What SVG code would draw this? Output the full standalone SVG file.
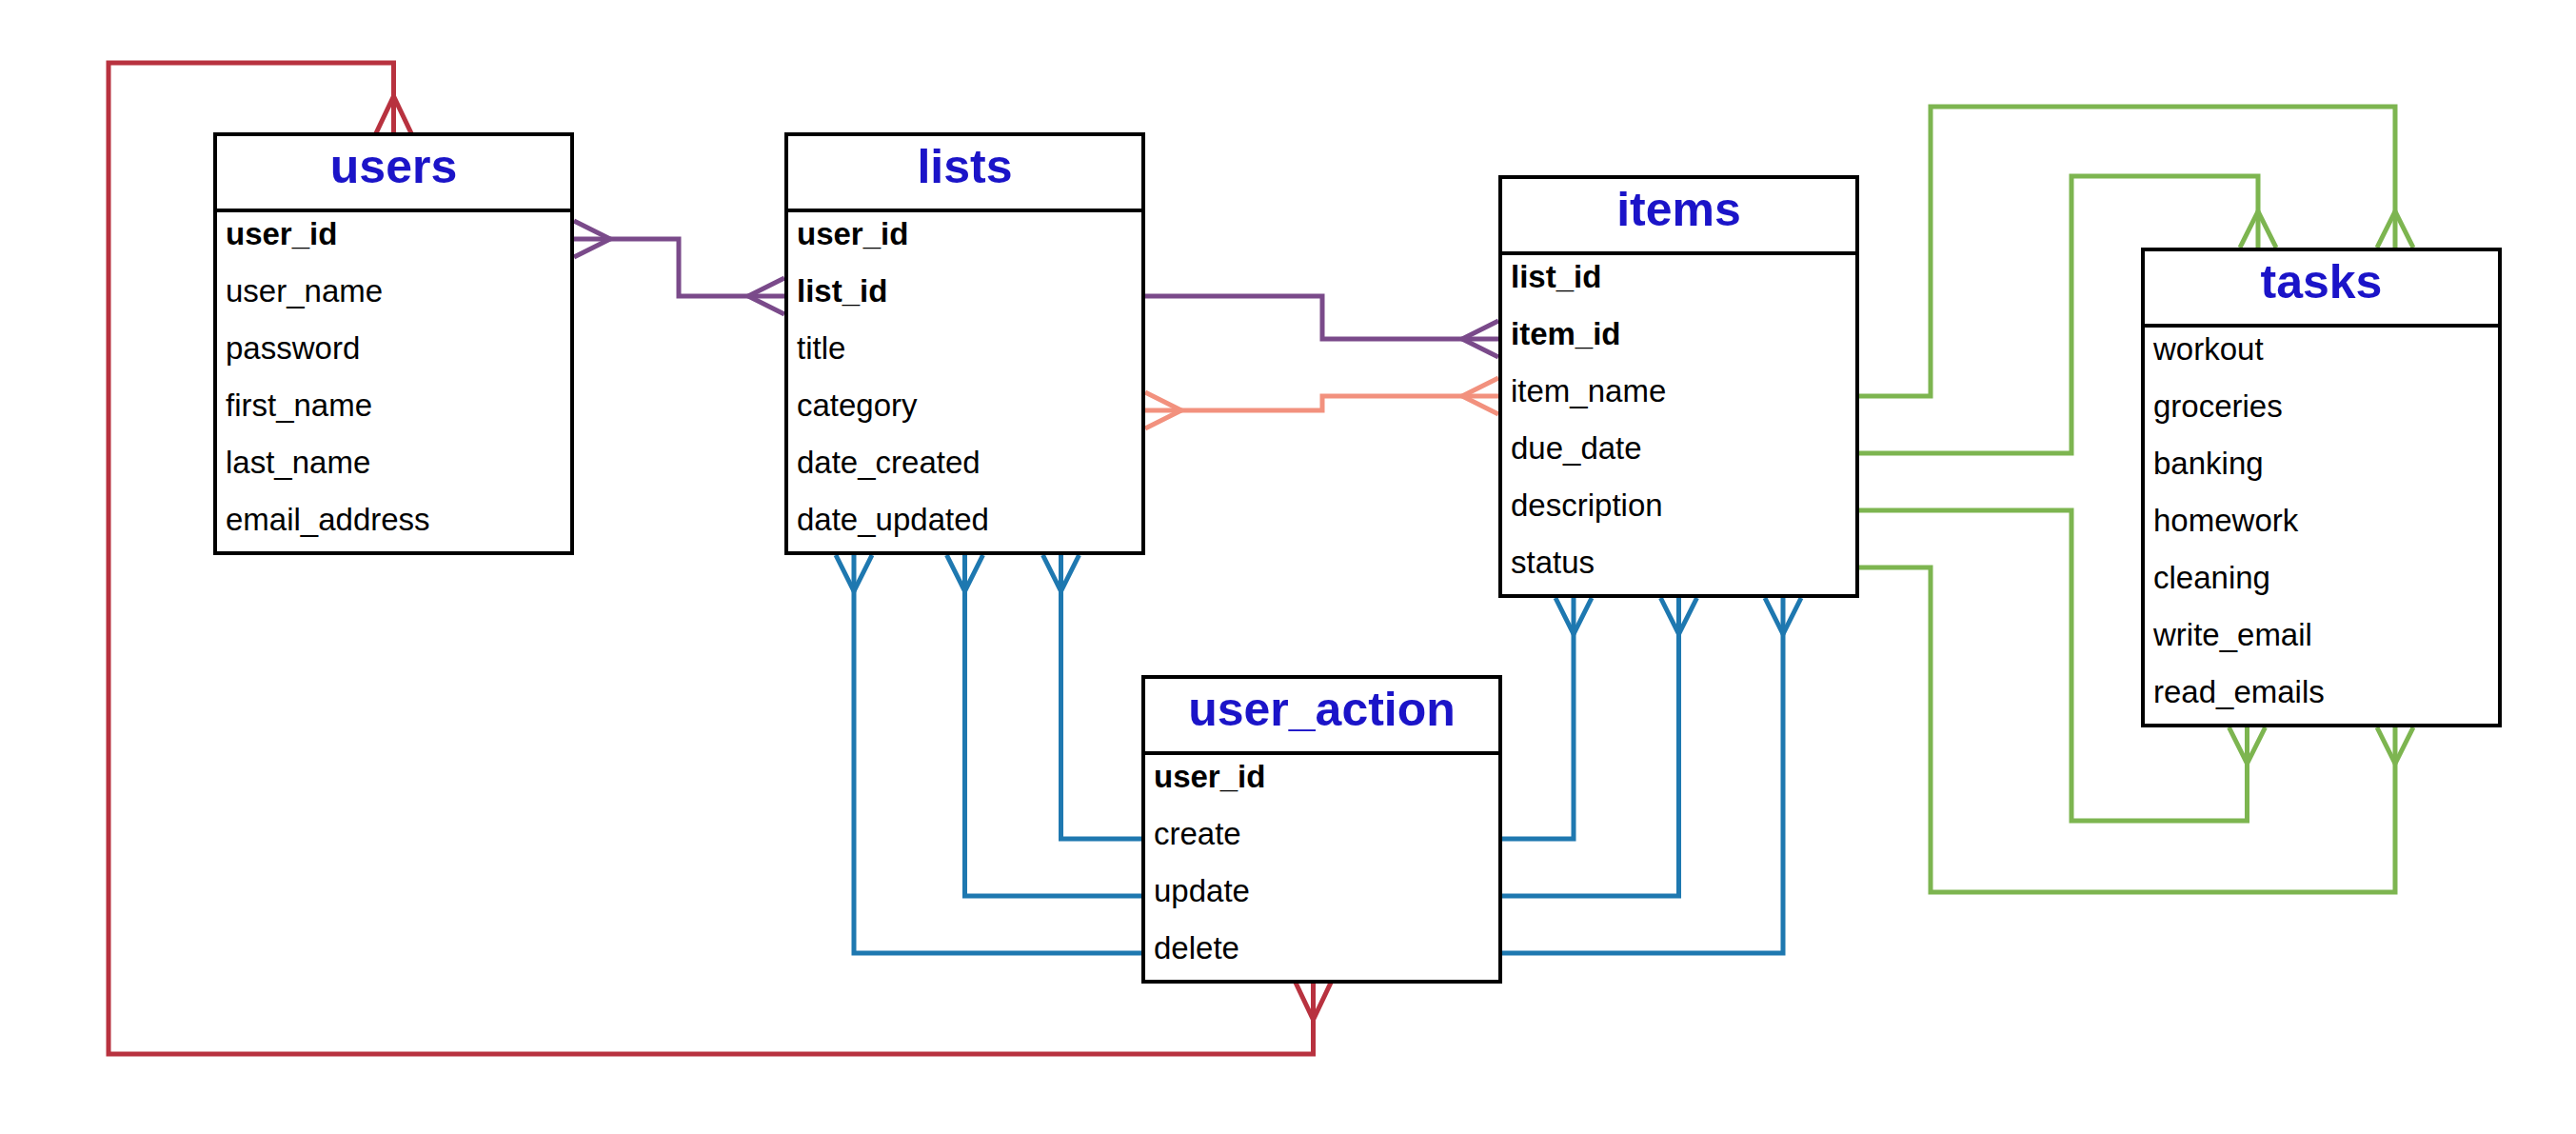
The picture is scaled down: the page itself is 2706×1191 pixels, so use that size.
<svg xmlns="http://www.w3.org/2000/svg" width="2706" height="1191" viewBox="0 0 2706 1191">
<style>
.box{fill:#fff;stroke:#000;stroke-width:4}
.div{stroke:#000;stroke-width:4}
.title{font-family:"Liberation Sans",Arial,sans-serif;font-size:50px;font-weight:bold;fill:#1B14C8;text-anchor:middle}
.row{font-family:"Liberation Sans",Arial,sans-serif;font-size:33px;fill:#000}
.pk{font-weight:bold}
.c{fill:none;stroke-width:5;stroke-linejoin:miter}
.red{stroke:#B8323F}
.pur{stroke:#7A4A8A}
.sal{stroke:#F2917E}
.blu{stroke:#1E78B0}
.grn{stroke:#7DB550}
</style>
<rect width="2706" height="1191" fill="#fff"/>
<g id="connectors">
  <g id="users-user_action">
    <path class="c red" d="M413.5 141V66H114V1107H1379.5V1031"/>
    <path class="c red" d="M394.5 141L413.5 101L432.5 141"/>
    <path class="c red" d="M1360.5 1031L1379.5 1071L1398.5 1031"/>
  </g>
  <g id="users-lists">
    <path class="c pur" d="M601 251H713V311H826"/>
    <path class="c pur" d="M603 232L641 251L603 270"/>
    <path class="c pur" d="M824 292L786 311L824 330"/>
  </g>
  <g id="lists-items">
    <path class="c pur" d="M1201 311H1389V356H1576"/>
    <path class="c pur" d="M1574 337L1536 356L1574 375"/>
  </g>
  <g id="lists-items-category">
    <path class="c sal" d="M1201 431H1389V416H1576"/>
    <path class="c sal" d="M1203 412L1241 431L1203 450"/>
    <path class="c sal" d="M1574 397L1536 416L1574 435"/>
  </g>
  <g id="lists-user_action">
    <path class="c blu" d="M1114.5 581V881H1201"/>
    <path class="c blu" d="M1013.5 581V941H1201"/>
    <path class="c blu" d="M897 581V1001H1201"/>
    <path class="c blu" d="M1095.5 583L1114.5 621L1133.5 583"/>
    <path class="c blu" d="M994.5 583L1013.5 621L1032.5 583"/>
    <path class="c blu" d="M878 583L897 621L916 583"/>
  </g>
  <g id="items-user_action">
    <path class="c blu" d="M1653 626V881H1576"/>
    <path class="c blu" d="M1763.5 626V941H1576"/>
    <path class="c blu" d="M1873 626V1001H1576"/>
    <path class="c blu" d="M1634 628L1653 666L1672 628"/>
    <path class="c blu" d="M1744.5 628L1763.5 666L1782.5 628"/>
    <path class="c blu" d="M1854 628L1873 666L1892 628"/>
  </g>
  <g id="items-tasks">
    <path class="c grn" d="M1951 416H2028V112H2516V262"/>
    <path class="c grn" d="M1951 476H2176V185H2372V262"/>
    <path class="c grn" d="M1951 536H2176V862H2360.5V762"/>
    <path class="c grn" d="M1951 596H2028V937H2516V762"/>
    <path class="c grn" d="M2497 260L2516 222L2535 260"/>
    <path class="c grn" d="M2353 260L2372 222L2391 260"/>
    <path class="c grn" d="M2341.5 764L2360.5 802L2379.5 764"/>
    <path class="c grn" d="M2497 764L2516 802L2535 764"/>
  </g>
</g>
<g id="users">
  <rect class="box" x="226" y="141" width="375" height="440"/>
  <line class="div" x1="226" y1="221" x2="601" y2="221"/>
  <text class="title" x="413.5" y="192">users</text>
  <text class="row pk" x="237" y="257">user_id</text>
  <text class="row" x="237" y="317">user_name</text>
  <text class="row" x="237" y="377">password</text>
  <text class="row" x="237" y="437">first_name</text>
  <text class="row" x="237" y="497">last_name</text>
  <text class="row" x="237" y="557">email_address</text>
</g>
<g id="lists">
  <rect class="box" x="826" y="141" width="375" height="440"/>
  <line class="div" x1="826" y1="221" x2="1201" y2="221"/>
  <text class="title" x="1013.5" y="192">lists</text>
  <text class="row pk" x="837" y="257">user_id</text>
  <text class="row pk" x="837" y="317">list_id</text>
  <text class="row" x="837" y="377">title</text>
  <text class="row" x="837" y="437">category</text>
  <text class="row" x="837" y="497">date_created</text>
  <text class="row" x="837" y="557">date_updated</text>
</g>
<g id="items">
  <rect class="box" x="1576" y="186" width="375" height="440"/>
  <line class="div" x1="1576" y1="266" x2="1951" y2="266"/>
  <text class="title" x="1763.5" y="237">items</text>
  <text class="row pk" x="1587" y="302">list_id</text>
  <text class="row pk" x="1587" y="362">item_id</text>
  <text class="row" x="1587" y="422">item_name</text>
  <text class="row" x="1587" y="482">due_date</text>
  <text class="row" x="1587" y="542">description</text>
  <text class="row" x="1587" y="602">status</text>
</g>
<g id="tasks">
  <rect class="box" x="2251" y="262" width="375" height="500"/>
  <line class="div" x1="2251" y1="342" x2="2626" y2="342"/>
  <text class="title" x="2438.5" y="313">tasks</text>
  <text class="row" x="2262" y="378">workout</text>
  <text class="row" x="2262" y="438">groceries</text>
  <text class="row" x="2262" y="498">banking</text>
  <text class="row" x="2262" y="558">homework</text>
  <text class="row" x="2262" y="618">cleaning</text>
  <text class="row" x="2262" y="678">write_email</text>
  <text class="row" x="2262" y="738">read_emails</text>
</g>
<g id="user_action">
  <rect class="box" x="1201" y="711" width="375" height="320"/>
  <line class="div" x1="1201" y1="791" x2="1576" y2="791"/>
  <text class="title" x="1388.5" y="762">user_action</text>
  <text class="row pk" x="1212" y="827">user_id</text>
  <text class="row" x="1212" y="887">create</text>
  <text class="row" x="1212" y="947">update</text>
  <text class="row" x="1212" y="1007">delete</text>
</g>
</svg>
